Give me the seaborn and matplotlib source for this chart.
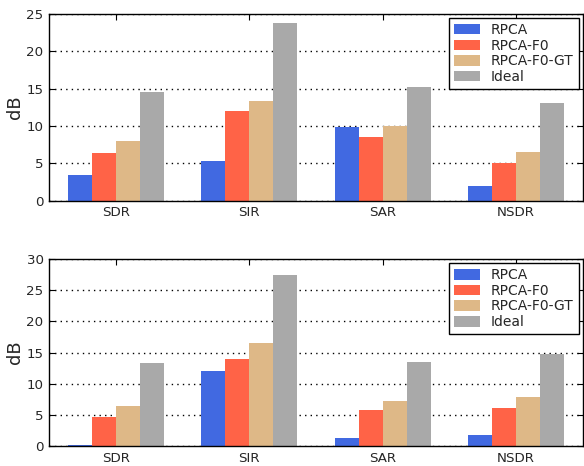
import numpy as np
import pandas as pd
import seaborn as sns
import matplotlib.pyplot as plt

metrics = ['SDR', 'SIR', 'SAR', 'NSDR']
methods = ['RPCA', 'RPCA-F0', 'RPCA-F0-GT', 'Ideal']
colors = ['royalblue', 'tomato', 'burlywood', 'darkgray']

# top panel
top_rpca = [3.5, 5.3, 9.9, 2.0]
top_f0 = [6.4, 12.0, 8.5, 5.0]
top_gt = [8.0, 13.4, 10.0, 6.6]
top_ideal = [14.6, 23.8, 15.2, 13.1]

# bottom panel
bot_rpca = [0.2, 12.0, 1.3, 1.7]
bot_f0 = [4.6, 14.0, 5.8, 6.1]
bot_gt = [6.4, 16.5, 7.2, 7.9]
bot_ideal = [13.3, 27.4, 13.4, 14.8]

top_ticks = [0, 5, 10, 15, 20, 25]
bot_ticks = [0, 5, 10, 15, 20, 25, 30]


def make_df(series):
    rows = []
    for meth, vals in zip(methods, series):
        for m, v in zip(metrics, vals):
            rows.append({'metric': m, 'method': meth, 'dB': v})
    return pd.DataFrame(rows)


sns.set_style('white')
plt.rcParams['font.family'] = ['DejaVu Sans']

fig = plt.figure(figsize=(5.84, 4.66), dpi=100)
ax1 = fig.add_axes([0.084, 0.569, 0.914, 0.401])
ax2 = fig.add_axes([0.084, 0.043, 0.914, 0.401])

panels = [
    (ax1, make_df([top_rpca, top_f0, top_gt, top_ideal]), top_ticks),
    (ax2, make_df([bot_rpca, bot_f0, bot_gt, bot_ideal]), bot_ticks),
]

for ax, df, ticks in panels:
    sns.barplot(data=df, x='metric', y='dB', hue='method', hue_order=methods,
                palette=colors, width=0.72, saturation=1, linewidth=0,
                ax=ax, zorder=2)
    ax.set_xlim(-0.5, 3.5)
    ax.set_ylim(ticks[0], ticks[-1])
    ax.set_yticks(ticks)
    ax.set_xlabel('')
    ax.set_ylabel('dB', fontsize=13, labelpad=2)
    ax.yaxis.grid(True, linestyle=(0, (1, 3)), color='black', linewidth=1.0, zorder=0)
    ax.set_axisbelow(True)
    for s in ax.spines.values():
        s.set_color('black')
        s.set_linewidth(1.0)
    ax.tick_params(axis='y', which='both', left=True, right=True, direction='in',
                   length=4, width=0.8, color='black', labelsize=9.6, pad=4)
    ax.tick_params(axis='x', top=True, bottom=False, direction='in',
                   length=4, width=0.8, color='black', labelsize=9.6, pad=4)
    leg = ax.legend(loc='upper right', fontsize=10, fancybox=False,
                    edgecolor='black', framealpha=1, borderaxespad=0.3,
                    handlelength=1.9, handleheight=0.8, labelspacing=0.12,
                    handletextpad=0.8, borderpad=0.35)
    leg.get_frame().set_linewidth(1.0)

fig.savefig('out.png', dpi=100)
